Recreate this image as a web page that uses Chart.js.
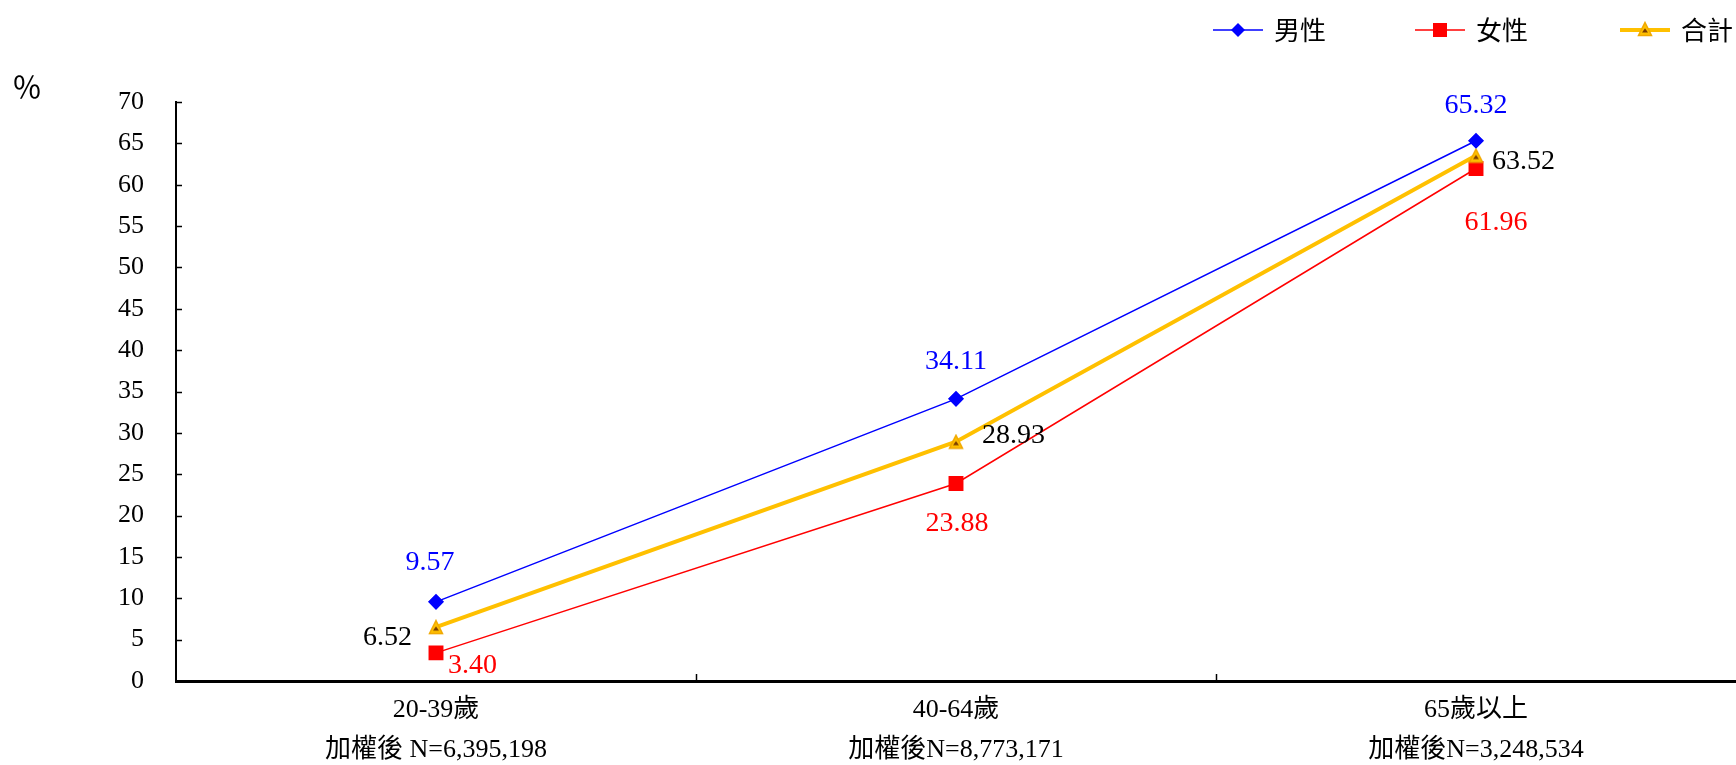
<!DOCTYPE html>
<html>
<head>
<meta charset="utf-8">
<script src="https://cdn.jsdelivr.net/npm/chart.js@4.4.1/dist/chart.umd.min.js"></script>
<style>
  html, body { margin: 0; padding: 0; background: #fff; overflow: hidden; }
  canvas { display: block; }
</style>
</head>
<body>
<canvas id="chart" width="1736" height="765"></canvas>
<script>
// data
const categories = [
    ['20-39歲', '加權後 N=6,395,198'],
    ['40-64歲', '加權後N=8,773,171'],
    ['65歲以上', '加權後N=3,248,534']
];
const seriesNames = ['男性', '女性', '合計'];
const maleValues = [9.57, 34.11, 65.32];
const femaleValues = [3.40, 23.88, 61.96];
const totalValues = [6.52, 28.93, 63.52];
const yMin = 0;
const yMax = 70;
const yStep = 5;
const unitLabel = '％';

const NUM_FONT = '"Liberation Serif", "Noto Sans CJK TC", serif';
const CJK_FONT = '"Liberation Serif", "Noto Sans CJK TC", serif';

// yellow triangle marker with the small brown triangle inside
function makeTriangle(size) {
    const c = document.createElement('canvas');
    c.width = size;
    c.height = size;
    const g = c.getContext('2d');
    const pad = 1.5;
    g.beginPath();
    g.moveTo(size / 2, pad);
    g.lineTo(size - pad, size - pad);
    g.lineTo(pad, size - pad);
    g.closePath();
    g.fillStyle = '#FFC000';
    g.fill();
    g.lineWidth = 1.5;
    g.strokeStyle = '#F0A800';
    g.stroke();
    g.beginPath();
    g.moveTo(size / 2, size * 0.45);
    g.lineTo(size / 2 + 3, size * 0.72);
    g.lineTo(size / 2 - 3, size * 0.72);
    g.closePath();
    g.fillStyle = '#7A3C00';
    g.fill();
    return c;
}
const triMarker = makeTriangle(16);

// label placement per point: [dx, dy, align]
const labelPlace = {
    0: [[-6, -39, 'center'], [0, -37, 'center'], [0, -35, 'center']],
    1: [[12, 13, 'left'], [1, 40, 'center'], [20, 54, 'center']],
    2: [[-24, 11, 'right'], [26, -6, 'left'], [16, 6, 'left']]
};
const labelColors = ['#0000FF', '#FF0000', '#000000'];

const dataLabels = {
    id: 'dataLabels',
    afterDatasetsDraw(chart) {
        const ctx = chart.ctx;
        ctx.save();
        ctx.font = '28px ' + NUM_FONT;
        ctx.textBaseline = 'middle';
        chart.data.datasets.forEach((ds, di) => {
            const meta = chart.getDatasetMeta(di);
            meta.data.forEach((pt, i) => {
                const p = labelPlace[di][i];
                ctx.fillStyle = labelColors[di];
                ctx.textAlign = p[2];
                ctx.fillText(ds.data[i].toFixed(2), pt.x + p[0], pt.y + p[1]);
            });
        });
        ctx.restore();
    }
};

// inward tick marks, unit label and the legend
const extras = {
    id: 'extras',
    afterDraw(chart) {
        const ctx = chart.ctx;
        const area = chart.chartArea;
        const ys = chart.scales.y;
        const xs = chart.scales.x;
        ctx.save();
        ctx.strokeStyle = '#000';
        ctx.lineWidth = 1.5;
        ys.ticks.forEach(t => {
            const y = Math.round(ys.getPixelForValue(t.value)) + 0.5;
            ctx.beginPath();
            ctx.moveTo(area.left, y);
            ctx.lineTo(area.left + 6, y);
            ctx.stroke();
        });
        for (let i = 0; i < categories.length - 1; i++) {
            const x = Math.round((xs.getPixelForValue(i) + xs.getPixelForValue(i + 1)) / 2) + 0.5;
            ctx.beginPath();
            ctx.moveTo(x, area.bottom);
            ctx.lineTo(x, area.bottom - 7);
            ctx.stroke();
        }

        ctx.fillStyle = '#000';
        ctx.font = '30px "Noto Sans CJK TC", sans-serif';
        ctx.textAlign = 'center';
        ctx.textBaseline = 'middle';
        ctx.fillText(unitLabel, 27, 87);

        // legend
        const legendX = [1213, 1415, 1620];
        const ly = 30;
        chart.data.datasets.forEach((ds, di) => {
            const x0 = legendX[di];
            ctx.strokeStyle = ds.borderColor;
            ctx.lineWidth = ds.borderWidth;
            ctx.beginPath();
            ctx.moveTo(x0, ly);
            ctx.lineTo(x0 + 50, ly);
            ctx.stroke();
            const cx = x0 + 25;
            if (di === 0) {
                ctx.fillStyle = ds.pointBackgroundColor;
                ctx.beginPath();
                ctx.moveTo(cx, ly - 7);
                ctx.lineTo(cx + 7, ly);
                ctx.lineTo(cx, ly + 7);
                ctx.lineTo(cx - 7, ly);
                ctx.closePath();
                ctx.fill();
            } else if (di === 1) {
                ctx.fillStyle = ds.pointBackgroundColor;
                ctx.fillRect(cx - 7, ly - 7, 14, 14);
            } else {
                ctx.drawImage(triMarker, cx - 8, ly - 9);
            }
            ctx.fillStyle = '#000';
            ctx.font = '26px "Noto Sans CJK TC", sans-serif';
            ctx.textAlign = 'left';
            ctx.fillText(seriesNames[di], x0 + 61, ly);
        });
        ctx.restore();
    }
};

new Chart(document.getElementById('chart'), {
    type: 'line',
    data: {
        labels: categories,
        datasets: [
            {
                label: seriesNames[0],
                data: maleValues,
                borderColor: '#0000FF',
                backgroundColor: '#0000FF',
                pointBackgroundColor: '#0000FF',
                pointBorderColor: '#0000FF',
                borderWidth: 1.5,
                pointStyle: 'rectRot',
                pointRadius: 7,
                order: 0
            },
            {
                label: seriesNames[1],
                data: femaleValues,
                borderColor: '#FF0000',
                backgroundColor: '#FF0000',
                pointBackgroundColor: '#FF0000',
                pointBorderColor: '#FF0000',
                borderWidth: 1.5,
                pointStyle: 'rect',
                pointRadius: 9.5,
                order: 2
            },
            {
                label: seriesNames[2],
                data: totalValues,
                borderColor: '#FFC000',
                backgroundColor: '#FFC000',
                borderWidth: 4,
                pointStyle: triMarker,
                pointRadius: 8,
                order: 1
            }
        ]
    },
    options: {
        responsive: false,
        animation: false,
        devicePixelRatio: 1,
        layout: {
            autoPadding: false,
            padding: { top: 102, right: 0, left: 0, bottom: 0 }
        },
        plugins: {
            legend: { display: false },
            tooltip: { enabled: false }
        },
        scales: {
            x: {
                offset: true,
                grid: { display: false, drawTicks: false },
                border: { display: true, color: '#000', width: 3 },
                ticks: {
                    color: '#000',
                    padding: 9,
                    maxRotation: 0,
                    font: { family: CJK_FONT, size: 26, lineHeight: 1.54 }
                },
                afterFit(scale) {
                    scale.height = 84;
                    scale.paddingLeft = 0;
                    scale.paddingRight = 0;
                }
            },
            y: {
                min: yMin,
                max: yMax,
                grid: { display: false, drawTicks: false },
                border: { display: true, color: '#000', width: 2 },
                ticks: {
                    stepSize: yStep,
                    color: '#000',
                    padding: 32,
                    font: { family: NUM_FONT, size: 26 }
                },
                afterFit(scale) { scale.width = 176; }
            }
        }
    },
    plugins: [dataLabels, extras]
});
</script>
</body>
</html>
